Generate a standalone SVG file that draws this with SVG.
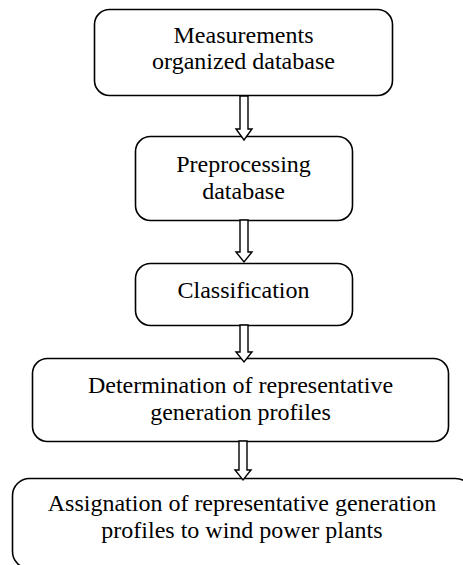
<svg xmlns="http://www.w3.org/2000/svg" width="463" height="565" viewBox="0 0 463 565">
<style>
.box{fill:#fff;stroke:#000;stroke-width:1.6}
.arr{fill:#fff;stroke:#000;stroke-width:1.4;stroke-linejoin:miter}
text{font-family:"Liberation Serif","Times New Roman",serif;font-size:24px;fill:#000;text-anchor:middle}
</style>
<rect width="463" height="565" fill="#fff"/>
<g id="n1">
<rect class="box" x="94.5" y="9.5" width="298" height="86" rx="15"/>
<text x="243.5" y="43">Measurements</text>
<text x="243.5" y="69">organized database</text>
</g>
<g id="n2">
<rect class="box" x="135.5" y="136.5" width="217" height="84" rx="15"/>
<text x="243.5" y="172">Preprocessing</text>
<text x="243.5" y="199">database</text>
</g>
<g id="n3">
<rect class="box" x="135.5" y="263.5" width="217" height="62" rx="15"/>
<text x="243.5" y="298">Classification</text>
</g>
<g id="n4">
<rect class="box" x="32.5" y="358.5" width="416" height="83" rx="15"/>
<text x="240.5" y="393">Determination of representative</text>
<text x="240.5" y="420">generation profiles</text>
</g>
<g id="n5">
<rect class="box" x="12.5" y="478.5" width="460" height="90" rx="17"/>
<text x="242" y="511">Assignation of representative generation</text>
<text x="242" y="538">profiles to wind power plants</text>
</g>
<g id="connectors">
<path class="arr" d="M240,96 L248,96 L248,129 L252,129 L244,140 L236,129 L240,129 Z"/>
<path class="arr" d="M240,220 L248,220 L248,252 L252,252 L244,262 L236,252 L240,252 Z"/>
<path class="arr" d="M240,325 L248,325 L248,352 L252,352 L244,362 L236,352 L240,352 Z"/>
<path class="arr" d="M239,441 L247,441 L247,470 L251,470 L243,480 L235,470 L239,470 Z"/>
</g>
</svg>
